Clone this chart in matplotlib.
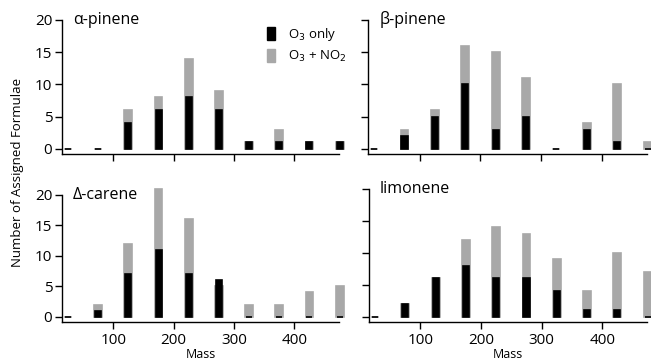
import numpy as np
import matplotlib
matplotlib.use("Agg")
from matplotlib import pyplot as plt
from matplotlib.patches import Patch

plt.rcParams['font.family'] = ['Open Sans', 'DejaVu Sans']

# bin centres (mass)
mass = [25, 75, 125, 175, 225, 275, 325, 375, 425, 475]

names = ["\u03b1-pinene", "\u03b2-pinene", "\u0394-carene", "limonene"]

# O3 only counts
o3_apinene = [0, 0, 4, 6, 8, 6, 1, 1, 1, 1]
o3_bpinene = [0, 2, 5, 10, 3, 5, 0, 3, 1, 0]
o3_carene = [0, 1, 7, 11, 7, 6, 0, 0, 0, 0]
o3_limonene = [0, 2, 6, 8, 6, 6, 4, 1, 1, 0]

# O3 + NO2 counts
no2_apinene = [0, 0, 6, 8, 14, 9, 1, 3, 1, 1]
no2_bpinene = [0, 3, 6, 16, 15, 11, 0, 4, 10, 1]
no2_carene = [0, 2, 12, 21, 16, 5, 2, 2, 4, 5]
no2_limonene = [0, 2, 6, 12, 14, 13, 9, 4, 10, 7]

o3_all = [o3_apinene, o3_bpinene, o3_carene, o3_limonene]
no2_all = [no2_apinene, no2_bpinene, no2_carene, no2_limonene]

W, H = 651, 363
fig = plt.figure(figsize=(W / 100, H / 100), dpi=100)

# axes boxes in pixels: x0, x1, ytop, ybottom
boxes = [(62, 339, 20, 154), (368, 647, 20, 154),
         (62, 339, 195, 321.7), (369, 647, 189.3, 321.7)]

gray = '#a8a8a8'
axes = []
for i, (x0, x1, yt, yb) in enumerate(boxes):
    ax = fig.add_axes([x0 / W, (H - yb) / H, (x1 - x0) / W, (yb - yt) / H])
    axes.append(ax)
    ax.bar(mass, no2_all[i], width=13, color=gray, edgecolor=gray, linewidth=1.2,
           clip_on=False, zorder=2)
    ax.bar(mass, o3_all[i], width=10, color='black', edgecolor='black', linewidth=1.2,
           clip_on=False, zorder=3)
    ax.set_xlim(15, 474)
    ax.set_ylim(-0.8, 20)
    ax.set_yticks([0, 5, 10, 15, 20])
    ax.set_xticks([100, 200, 300, 400])
    for s in ['top', 'right']:
        ax.spines[s].set_visible(False)
    for s in ['left', 'bottom']:
        ax.spines[s].set_linewidth(1.0)
    ax.tick_params(direction='out', length=5, width=1.0, labelsize=11)
    ax.tick_params(axis='x', pad=3)
    ax.tick_params(axis='y', pad=2)
    if i % 2 == 1:
        ax.set_yticklabels([])
    if i < 2:
        ax.set_xticklabels([])
    else:
        ax.set_xlabel("Mass", fontsize=9, labelpad=0)
    ax.text(0.04, 1.0, names[i], transform=ax.transAxes, fontsize=11.5,
            ha='left', va='center')

fig.text(18 / W, 1 - 172 / H, "Number of Assigned Formulae", rotation=90,
         ha='center', va='center', fontsize=9.5)

handles = [Patch(facecolor='black', edgecolor='black'),
           Patch(facecolor=gray, edgecolor=gray)]
fig.legend(handles, ["O$_3$ only", "O$_3$ + NO$_2$"], loc='upper left',
           bbox_to_anchor=(255 / W, 1 - 14 / H), frameon=False, fontsize=9.5,
           handlelength=0.6, handleheight=1.1, handletextpad=1.0,
           labelspacing=0.45)

fig.savefig("out.png", dpi=100)
